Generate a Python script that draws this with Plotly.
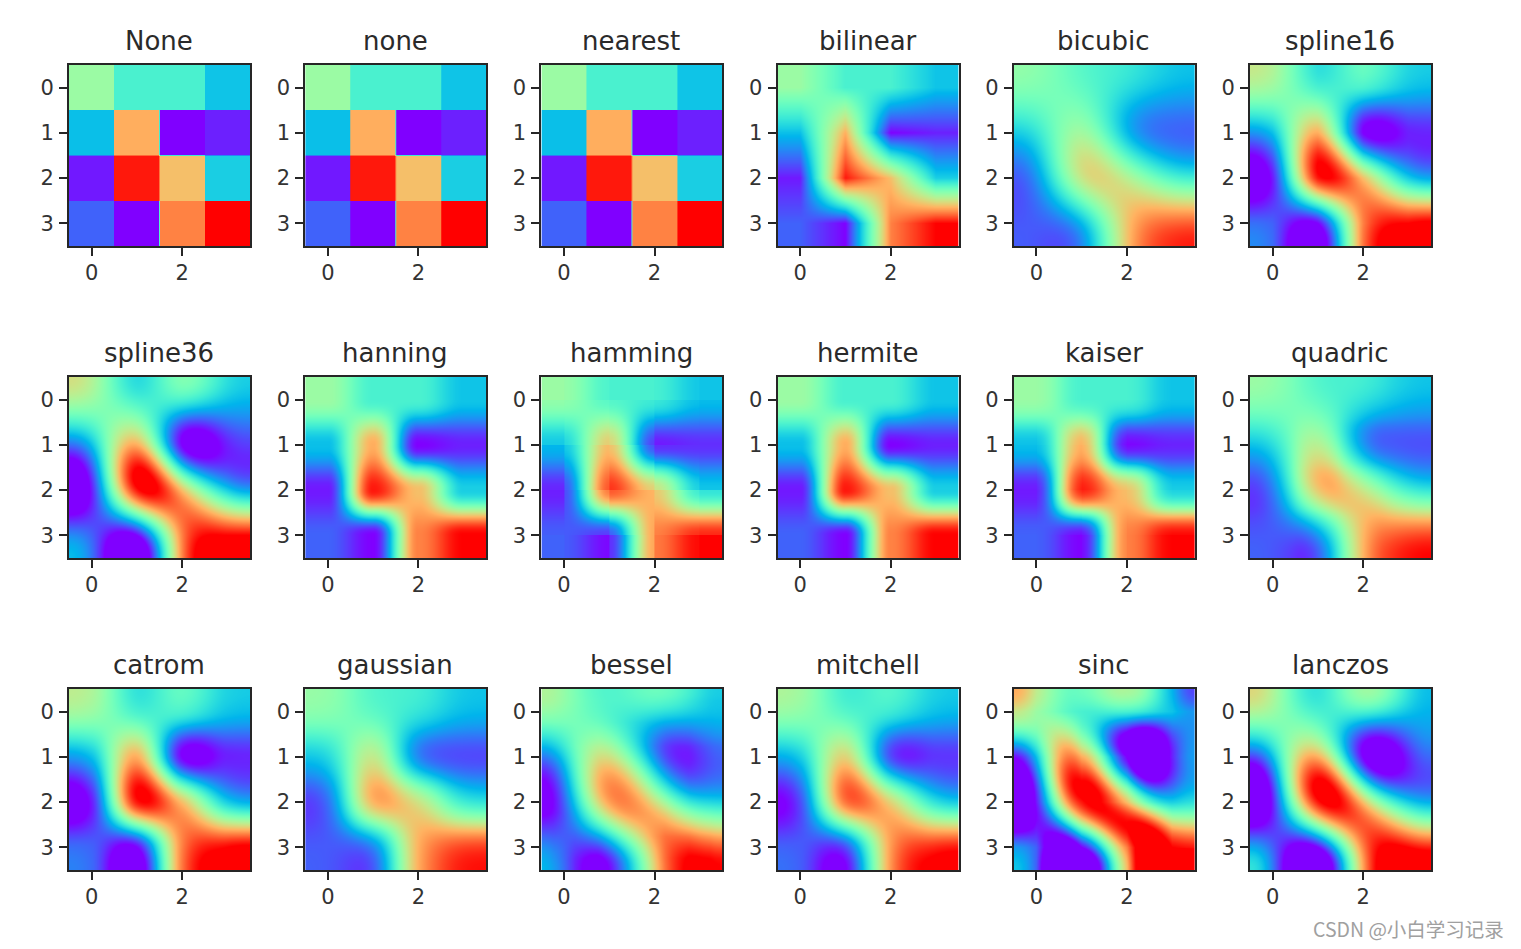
import numpy as np
import plotly.graph_objects as go

row_0 = [0.555, 0.395, 0.395, 0.28]
row_1 = [0.27, 0.76, 0.0, 0.04]
row_2 = [0.03, 0.97, 0.73, 0.30]
row_3 = [0.125, 0.0, 0.83, 1.0]
matrix = np.array([row_0, row_1, row_2, row_3])

methods = ["None", "none", "nearest", "bilinear", "bicubic", "spline16",
           "spline36", "hanning", "hamming", "hermite", "kaiser", "quadric",
           "catrom", "gaussian", "bessel", "mitchell", "sinc", "lanczos"]
x_ticks = [0, 2]
y_ticks = [0, 1, 2, 3]
watermark = "CSDN @小白学习记录"

PAGE_INSET = 8  # the page body's default margin
W, H = 1521 - PAGE_INSET, 949 - PAGE_INSET
lefts = [v - PAGE_INSET for v in [69, 305.2, 541.4, 777.6, 1013.8, 1250]]
tops = [v - PAGE_INSET for v in [65, 377, 689]]
SIDE = 181
N = 181


def j1(x):
    t = np.linspace(0, np.pi, 401)
    return np.trapezoid(np.cos(t[None, :] - x[:, None] * np.sin(t)[None, :]), t, axis=1) / np.pi


def sinc(x):
    return np.sinc(x)


def kernel(name, d):
    """Image-resampling filters, d = |distance| in source-pixel units."""
    x = np.abs(d)
    if name in ("None", "none", "nearest"):
        return (x < 0.5).astype(float) + 0.5 * (x == 0.5)
    if name == "bilinear":
        return np.where(x < 1, 1 - x, 0)
    if name == "hanning":
        return np.where(x < 1, 0.5 + 0.5 * np.cos(np.pi * x), 0)
    if name == "hamming":
        return np.where(x < 1, 0.54 + 0.46 * np.cos(np.pi * x), 0)
    if name == "hermite":
        return np.where(x < 1, (2 * x - 3) * x * x + 1, 0)
    if name == "kaiser":
        return np.where(x < 1, np.i0(6.33 * np.sqrt(np.clip(1 - x * x, 0, 1))) / np.i0(6.33), 0)
    if name == "quadric":
        return np.where(x < 0.5, 0.75 - x * x, np.where(x < 1.5, 0.5 * (x - 1.5) ** 2, 0))
    if name == "bicubic":
        p = lambda v: np.where(v > 0, v ** 3, 0)
        return np.where(x < 2, (p(x + 2) - 4 * p(x + 1) + 6 * p(x) - 4 * p(x - 1)) / 6, 0)
    if name == "catrom":
        return np.where(x < 1, 0.5 * (2 + x * x * (-5 + x * 3)),
                        np.where(x < 2, 0.5 * (4 + x * (-8 + x * (5 - x))), 0))
    if name == "mitchell":
        b, c = 1 / 3, 1 / 3
        return np.where(x < 1, ((12 - 9 * b - 6 * c) * x ** 3 + (-18 + 12 * b + 6 * c) * x ** 2 + 6 - 2 * b) / 6,
                        np.where(x < 2, ((-b - 6 * c) * x ** 3 + (6 * b + 30 * c) * x ** 2
                                         + (-12 * b - 48 * c) * x + 8 * b + 24 * c) / 6, 0))
    if name == "spline16":
        return np.where(x < 1, ((x - 9 / 5) * x - 1 / 5) * x + 1,
                        np.where(x < 2, ((-1 / 3 * (x - 1) + 4 / 5) * (x - 1) - 7 / 15) * (x - 1), 0))
    if name == "spline36":
        return np.where(x < 1, ((13 / 11 * x - 453 / 209) * x - 3 / 209) * x + 1,
                        np.where(x < 2, ((-6 / 11 * (x - 1) + 270 / 209) * (x - 1) - 156 / 209) * (x - 1),
                                 np.where(x < 3, ((1 / 11 * (x - 2) - 45 / 209) * (x - 2) + 26 / 209) * (x - 2), 0)))
    if name == "gaussian":
        return np.where(x < 2, np.exp(-2 * x * x), 0)
    if name == "bessel":
        safe = np.where(x == 0, 1.0, x)
        shape = safe.shape
        v = (j1(np.pi * safe.ravel()) / (2 * safe.ravel())).reshape(shape)
        return np.where(x == 0, np.pi / 4, np.where(x < 3.2383, v, 0))
    if name == "sinc":
        return np.where(x < 4, sinc(x), 0)
    if name == "lanczos":
        return np.where(x < 4, sinc(x) * sinc(x / 4), 0)
    raise ValueError(name)


def weights(name, coords):
    n = matrix.shape[0]
    src = np.arange(-8, n + 8)
    M = np.zeros((len(coords), n))
    w = kernel(name, coords[:, None].repeat(len(src), 1) - src[None, :])
    t = np.mod(src, 2 * n)
    idx = np.where(t >= n, 2 * n - 1 - t, t)  # reflect at the edges
    for j, i in enumerate(idx):
        M[:, i] += w[:, j]
    return M / M.sum(axis=1, keepdims=True)


def rainbow_scale(stops=65):
    out = []
    for v in np.linspace(0, 1, stops):
        r = abs(2 * v - 0.5)
        g = np.sin(np.pi * v)
        b = np.cos(np.pi * v / 2)
        out.append([float(v), f"rgb({min(r, 1) * 255:.0f},{g * 255:.0f},{b * 255:.0f})"])
    return out


scale = rainbow_scale()
coords = (np.arange(N) + 0.5) / N * 4 - 0.5
fig = go.Figure()
layout = {}
annotations = []
INK = "#262626"
for k, name in enumerate(methods):
    r, c = divmod(k, 6)
    M = weights(name, coords)
    z = np.clip(M @ matrix @ M.T, 0, 1).round(3)
    sfx = "" if k == 0 else str(k + 1)
    fig.add_trace(go.Heatmap(x=coords, y=coords, z=z, colorscale=scale, zmin=0, zmax=1,
                             showscale=False, zsmooth="fast", xaxis=f"x{sfx}", yaxis=f"y{sfx}",
                             name=name))
    l, t = lefts[c], tops[r]
    layout[f"xaxis{sfx}"] = dict(domain=[l / W, (l + SIDE) / W], anchor=f"y{sfx}", range=[-0.5, 3.5],
                                 tickmode="array", tickvals=x_ticks, ticks="outside", ticklen=8, tickwidth=2,
                                 tickcolor=INK, showgrid=False, zeroline=False, showline=True, mirror=True,
                                 linecolor=INK, linewidth=2, ticklabelstandoff=-1,
                                 tickfont=dict(size=21, color="#333333"))
    layout[f"yaxis{sfx}"] = dict(domain=[1 - (t + SIDE) / H, 1 - t / H], anchor=f"x{sfx}", range=[3.5, -0.5],
                                 tickmode="array", tickvals=y_ticks, ticks="outside", ticklen=8, tickwidth=2,
                                 tickcolor=INK, showgrid=False, zeroline=False, showline=True, mirror=True,
                                 linecolor=INK, linewidth=2, ticklabelstandoff=1,
                                 tickfont=dict(size=21, color="#333333"))
    annotations.append(dict(text=name, x=(l + SIDE / 2 - 0.5) / W, y=1 - (t - 8) / H, xref="paper", yref="paper",
                            xanchor="center", yanchor="bottom", showarrow=False,
                            font=dict(size=26, color="#2a2a2a"), borderpad=0))

annotations.append(dict(text=watermark, x=(1506 - PAGE_INSET) / W, y=1 - (928 - PAGE_INSET) / H,
                        xref="paper", yref="paper", xanchor="right", yanchor="middle", showarrow=False,
                        font=dict(size=19.5, color="#a0a0a0", family="Noto Sans CJK SC")))

fig.update_layout(width=W, height=H, margin=dict(l=0, r=0, t=0, b=0), autosize=False,
                  paper_bgcolor="white", plot_bgcolor="white", showlegend=False,
                  font=dict(family="DejaVu Sans"), annotations=annotations, **layout)
fig.write_html("out.html")
